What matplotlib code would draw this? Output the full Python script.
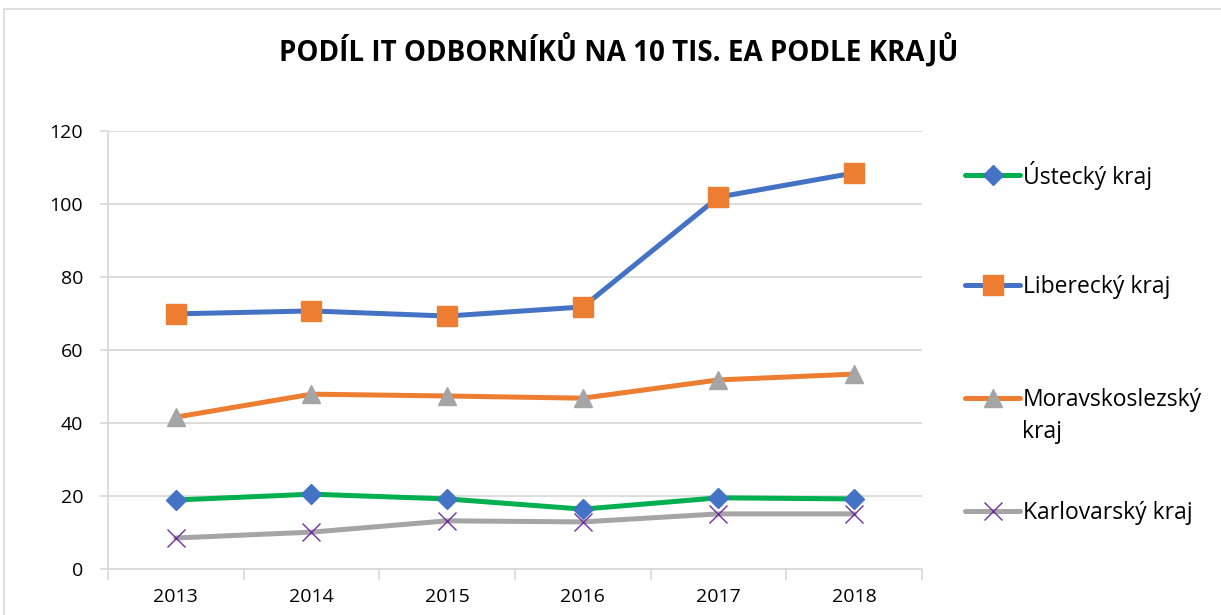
import numpy as np
import matplotlib.pyplot as plt
from matplotlib.patches import Rectangle

plt.rcParams['font.family'] = ['Open Sans', 'DejaVu Sans']

years = ['2013', '2014', '2015', '2016', '2017', '2018']
ustecky = [18.9, 20.5, 19.2, 16.4, 19.5, 19.2]
liberecky = [69.9, 70.7, 69.3, 71.8, 101.9, 108.5]
moravskoslezsky = [41.6, 47.9, 47.4, 46.8, 51.8, 53.4]
karlovarsky = [8.5, 10.1, 13.2, 12.9, 15.1, 15.1]

labels = ['Ústecký kraj', 'Liberecký kraj', 'Moravskoslezský', 'Karlovarský kraj']
series = [ustecky, liberecky, moravskoslezsky, karlovarsky]
line_colors = ['#00B050', '#4472C4', '#ED7D31', '#A5A5A5']
marker_colors = ['#4472C4', '#ED7D31', '#A5A5A5', '#7030A0']
markers = ['D', 's', '^', 'x']
msizes = [10, 14, 13, 13]

fig = plt.figure(figsize=(12.21, 6.15), dpi=100)
fig.patches.append(Rectangle((4 / 1221, -0.1), 1.2, 1.1 - 9 / 615, transform=fig.transFigure,
                             fill=False, edgecolor='#D9D9D9', lw=1.2))
ax = fig.add_axes([108 / 1221, 1 - 569 / 615, (922 - 108) / 1221, (569 - 131) / 615])

x = np.arange(len(years))
handles = []
for vals, lc, mc, mk, ms in zip(series, line_colors, marker_colors, markers, msizes):
    if mk == 'x':
        h, = ax.plot(x, vals, color=lc, lw=3.6, marker=mk, ms=ms, mec=mc, mew=1.0,
                     solid_capstyle='round', zorder=3)
    else:
        h, = ax.plot(x, vals, color=lc, lw=3.6, marker=mk, ms=ms, mfc=mc, mec=mc,
                     solid_capstyle='round', zorder=3)
    handles.append(h)

ax.set_xlim(-0.5, len(years) - 0.5)
ax.set_ylim(0, 120)
ax.set_yticks(range(0, 121, 20))
ax.set_xticks(x)
ax.set_xticklabels(years)
ax.set_xticks(np.arange(-0.5, len(years)), minor=True)
ax.tick_params(axis='x', which='major', length=0, pad=14, labelsize=14)
ax.tick_params(axis='x', which='minor', length=8, color='#D9D9D9', width=1.2)
ax.tick_params(axis='y', length=6, color='#D9D9D9', width=1.2, labelsize=14, pad=12)
ax.grid(axis='y', color='#D9D9D9', lw=1.3)
ax.set_axisbelow(True)
for s in ['top', 'right']:
    ax.spines[s].set_visible(False)
for s in ['left', 'bottom']:
    ax.spines[s].set_color('#D9D9D9')
    ax.spines[s].set_linewidth(1.3)

fig.text(619 / 1221, 1 - 50 / 615, 'PODÍL IT ODBORNÍKŮ NA 10 TIS. EA PODLE KRAJŮ',
         ha='center', va='center', fontsize=20, fontweight='bold')

leg_y = [175, 287, 400, 513]
for h, lab, yy in zip(handles, labels, leg_y):
    fig.legend(handles=[h], labels=[lab], loc='center left',
               bbox_to_anchor=(954 / 1221, 1 - yy / 615), frameon=False,
               fontsize=16.5, handlelength=2.4, handletextpad=0.1, borderpad=0)
# second line of the Moravskoslezský label
fig.text(1022 / 1221, 1 - 432 / 615, 'kraj', ha='left', va='center', fontsize=16.5)

fig.savefig('out.png', dpi=100)
